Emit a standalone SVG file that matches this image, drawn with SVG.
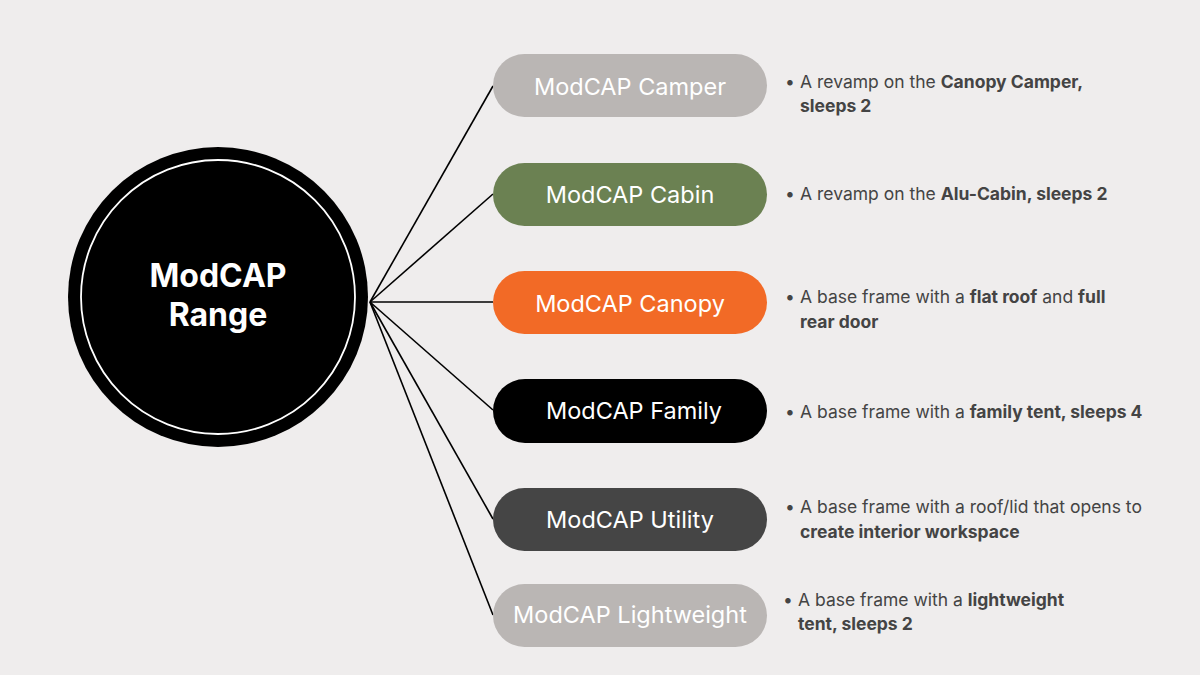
<svg xmlns="http://www.w3.org/2000/svg" width="1200" height="675" viewBox="0 0 1200 675">
<style>
.pill-t{font-family:Inter,"Noto Sans",sans-serif;font-size:23.5px;fill:#fff;text-anchor:middle}
.desc{font-family:Inter,"Noto Sans",sans-serif;font-size:17.5px;fill:#444}
.b{font-weight:700}
.conn{stroke:#000;stroke-width:1.6;fill:none}
.hub-t{font-family:Inter,"Noto Sans",sans-serif;font-size:32px;font-weight:700;fill:#fff;text-anchor:middle}
</style>
<rect width="1200" height="675" fill="#EFEDED"/>
<g id="connectors">
<line class="conn" x1="370" y1="302" x2="493" y2="86"/>
<line class="conn" x1="370" y1="302" x2="493" y2="194"/>
<line class="conn" x1="370" y1="302" x2="493" y2="302"/>
<line class="conn" x1="370" y1="302" x2="493" y2="410"/>
<line class="conn" x1="370" y1="302" x2="493" y2="519"/>
<line class="conn" x1="370" y1="302" x2="493" y2="615"/>
</g>
<g id="hub">
<circle cx="218" cy="297" r="150" fill="#000"/>
<circle cx="218" cy="297" r="137" fill="none" stroke="#fff" stroke-width="1.8"/>
<text class="hub-t" x="218" y="287">ModCAP</text>
<text class="hub-t" x="218" y="326">Range</text>
</g>
<g id="camper">
<rect x="493" y="54" width="274" height="63" rx="31.5" fill="#BAB6B4"/>
<text class="pill-t" x="630" y="95">ModCAP Camper</text>
<text class="desc" x="785" y="88">•</text>
<text class="desc" x="800" y="88">A revamp on the <tspan class="b">Canopy Camper,</tspan></text>
<text class="desc b" x="800" y="112">sleeps 2</text>
</g>
<g id="cabin">
<rect x="493" y="163" width="274" height="63" rx="31.5" fill="#6B8152"/>
<text class="pill-t" x="630" y="203">ModCAP Cabin</text>
<text class="desc" x="785" y="200">•</text>
<text class="desc" x="800" y="200">A revamp on the <tspan class="b">Alu-Cabin, sleeps 2</tspan></text>
</g>
<g id="canopy">
<rect x="493" y="271" width="274" height="63" rx="31.5" fill="#F26A26"/>
<text class="pill-t" x="630" y="312">ModCAP Canopy</text>
<text class="desc" x="785" y="303">•</text>
<text class="desc" x="800" y="303">A base frame with a <tspan class="b">flat roof</tspan> and <tspan class="b">full</tspan></text>
<text class="desc b" x="800" y="328">rear door</text>
</g>
<g id="family">
<rect x="493" y="379" width="274" height="64" rx="32" fill="#000"/>
<text class="pill-t" x="634" y="419">ModCAP Family</text>
<text class="desc" x="785" y="418">•</text>
<text class="desc" x="800" y="418">A base frame with a <tspan class="b">family tent, sleeps 4</tspan></text>
</g>
<g id="utility">
<rect x="493" y="488" width="274" height="63" rx="31.5" fill="#454545"/>
<text class="pill-t" x="630" y="528">ModCAP Utility</text>
<text class="desc" x="785" y="513">•</text>
<text class="desc" x="800" y="513">A base frame with a roof/lid that opens to</text>
<text class="desc b" x="800" y="538">create interior workspace</text>
</g>
<g id="lightweight">
<rect x="493" y="584" width="274" height="63" rx="31.5" fill="#BAB6B4"/>
<text class="pill-t" x="630" y="623">ModCAP Lightweight</text>
<text class="desc" x="783" y="606">•</text>
<text class="desc" x="798" y="606">A base frame with a <tspan class="b">lightweight</tspan></text>
<text class="desc b" x="798" y="630">tent, sleeps 2</text>
</g>
</svg>
